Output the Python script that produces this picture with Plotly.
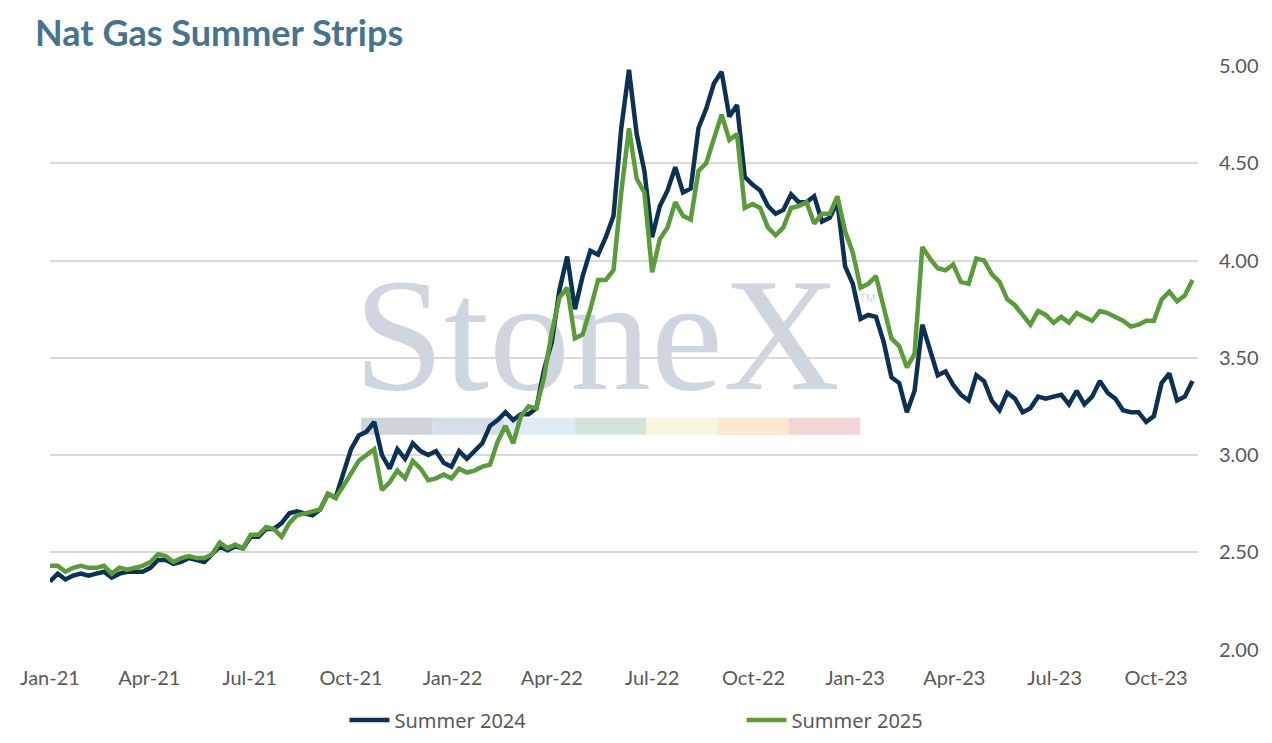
import pandas as pd
import plotly.graph_objects as go

# weekly readings, first Friday of 2021 onward
start_date = "2021-01-01"

summer_2024 = [
    2.35, 2.39, 2.36, 2.38, 2.39, 2.38, 2.39, 2.40, 2.37, 2.39,
    2.40, 2.40, 2.40, 2.42, 2.46, 2.46, 2.44, 2.45, 2.47, 2.46,
    2.45, 2.49, 2.53, 2.51, 2.53, 2.52, 2.58, 2.58, 2.62, 2.62,
    2.65, 2.70, 2.71, 2.70, 2.69, 2.72, 2.80, 2.78, 2.90, 3.03,
    3.10, 3.12, 3.17, 3.00, 2.93, 3.03, 2.98, 3.06, 3.02, 3.00,
    3.02, 2.96, 2.94, 3.02, 2.98, 3.02, 3.06, 3.15, 3.18, 3.22,
    3.18, 3.21, 3.21, 3.24, 3.44, 3.58, 3.85, 4.02, 3.75, 3.92,
    4.05, 4.03, 4.12, 4.23, 4.68, 4.98, 4.65, 4.46, 4.12, 4.28,
    4.36, 4.48, 4.35, 4.37, 4.68, 4.78, 4.91, 4.97, 4.74, 4.80,
    4.43, 4.39, 4.36, 4.28, 4.24, 4.26, 4.34, 4.30, 4.30, 4.33,
    4.20, 4.22, 4.30, 3.97, 3.88, 3.70, 3.72, 3.71, 3.58, 3.40,
    3.37, 3.22, 3.33, 3.67, 3.53, 3.41, 3.43, 3.36, 3.31, 3.28,
    3.41, 3.38, 3.28, 3.23, 3.32, 3.29, 3.22, 3.24, 3.30, 3.29,
    3.30, 3.31, 3.26, 3.33, 3.26, 3.30, 3.38, 3.32, 3.29, 3.23,
    3.22, 3.22, 3.17, 3.20, 3.37, 3.42, 3.28, 3.30, 3.38,
]

summer_2025 = [
    2.43, 2.43, 2.40, 2.42, 2.43, 2.42, 2.42, 2.43, 2.39, 2.42,
    2.41, 2.42, 2.43, 2.45, 2.49, 2.48, 2.45, 2.47, 2.48, 2.47,
    2.47, 2.49, 2.55, 2.52, 2.54, 2.52, 2.59, 2.59, 2.63, 2.62,
    2.58, 2.65, 2.69, 2.70, 2.71, 2.72, 2.80, 2.78, 2.84, 2.91,
    2.97, 3.00, 3.03, 2.82, 2.86, 2.92, 2.88, 2.97, 2.93, 2.87,
    2.88, 2.90, 2.88, 2.93, 2.91, 2.92, 2.94, 2.95, 3.07, 3.15,
    3.06, 3.20, 3.25, 3.24, 3.40, 3.63, 3.81, 3.86, 3.60, 3.62,
    3.75, 3.90, 3.90, 3.95, 4.35, 4.68, 4.42, 4.35, 3.94, 4.11,
    4.17, 4.30, 4.23, 4.21, 4.46, 4.50, 4.63, 4.75, 4.62, 4.65,
    4.27, 4.29, 4.27, 4.17, 4.13, 4.17, 4.27, 4.28, 4.30, 4.19,
    4.24, 4.24, 4.33, 4.15, 4.04, 3.86, 3.88, 3.92, 3.76, 3.60,
    3.56, 3.45, 3.52, 4.07, 4.01, 3.96, 3.95, 3.98, 3.89, 3.88,
    4.01, 4.00, 3.93, 3.89, 3.80, 3.77, 3.72, 3.67, 3.74, 3.72,
    3.68, 3.71, 3.68, 3.73, 3.71, 3.69, 3.74, 3.73, 3.71, 3.69,
    3.66, 3.67, 3.69, 3.69, 3.80, 3.84, 3.79, 3.82, 3.90,
]

dates = pd.date_range(start_date, periods=len(summer_2024), freq="7D")

y_ticks = [2.0, 2.5, 3.0, 3.5, 4.0, 4.5, 5.0]

NAVY = "#0d3152"
GREEN = "#5b9b3c"
GREY_TXT = "#595959"

# page body adds an 8px margin, so the figure is drawn 8px smaller
W, H = 1264, 735

fig = go.Figure()

# StoneX watermark text (as a trace so the lines sit on top of it)
fig.add_trace(go.Scatter(
    x=["2022-05-12"], y=[3.55], mode="text", text=["StoneX"],
    textfont=dict(family="Liberation Serif", size=162, color="#cfd6df"),
    showlegend=False, hoverinfo="skip",
))
fig.add_trace(go.Scatter(
    x=["2023-01-12"], y=[3.80], mode="text", text=["TM"],
    textfont=dict(family="Liberation Sans", size=11, color="#cfd6df"),
    showlegend=False, hoverinfo="skip",
))

fig.add_trace(go.Scatter(
    x=dates, y=summer_2024, name="Summer 2024", mode="lines",
    line=dict(color=NAVY, width=4.5),
))
fig.add_trace(go.Scatter(
    x=dates, y=summer_2025, name="Summer 2025", mode="lines",
    line=dict(color=GREEN, width=4.5),
))

# coloured band under the watermark
band_colors = ["#cdd3db", "#d5dfea", "#dfebf4", "#d3e3d9",
               "#f7f6dd", "#fae7cd", "#f3d5d6"]
x0, seg = 0.2711, 0.0621
for i, c in enumerate(band_colors):
    fig.add_shape(type="rect", xref="x domain", yref="y domain",
                  x0=x0 + i * seg, x1=x0 + (i + 1) * seg, y0=0.368, y1=0.397,
                  fillcolor=c, line_width=0, layer="below")

fig.update_layout(
    width=W, height=H,
    margin=dict(l=36, r=74, t=58, b=93),
    paper_bgcolor="white", plot_bgcolor="white",
    font=dict(family="Lato", size=20, color=GREY_TXT),
    title=dict(text="<b>Nat Gas Summer Strips</b>", x=27 / W, xanchor="left",
               y=1 - 25 / H, yanchor="middle",
               font=dict(family="Lato", size=36, color="#48738f")),
    legend=dict(orientation="h", x=0.2565, y=23 / H,
                yref="container", xanchor="left", yanchor="middle",
                itemwidth=40, entrywidth=342,
                font=dict(family="Noto Sans", size=20, color=GREY_TXT)),
    showlegend=True,
)
fig.update_xaxes(
    type="date", range=["2021-01-01", "2023-11-08"],
    tick0="2021-01-01", dtick="M3", tickformat="%b-%y",
    showgrid=False, zeroline=False, showline=False, ticks="",
    ticklabelstandoff=14,
)
fig.update_yaxes(
    side="right", range=[2.0, 5.0], tickvals=y_ticks, tickformat=".2f",
    showgrid=True, gridcolor="#d9d9d9", gridwidth=1.5,
    zeroline=False, showline=False, ticks="", ticklabelstandoff=20,
)

fig.write_html("out.html")
